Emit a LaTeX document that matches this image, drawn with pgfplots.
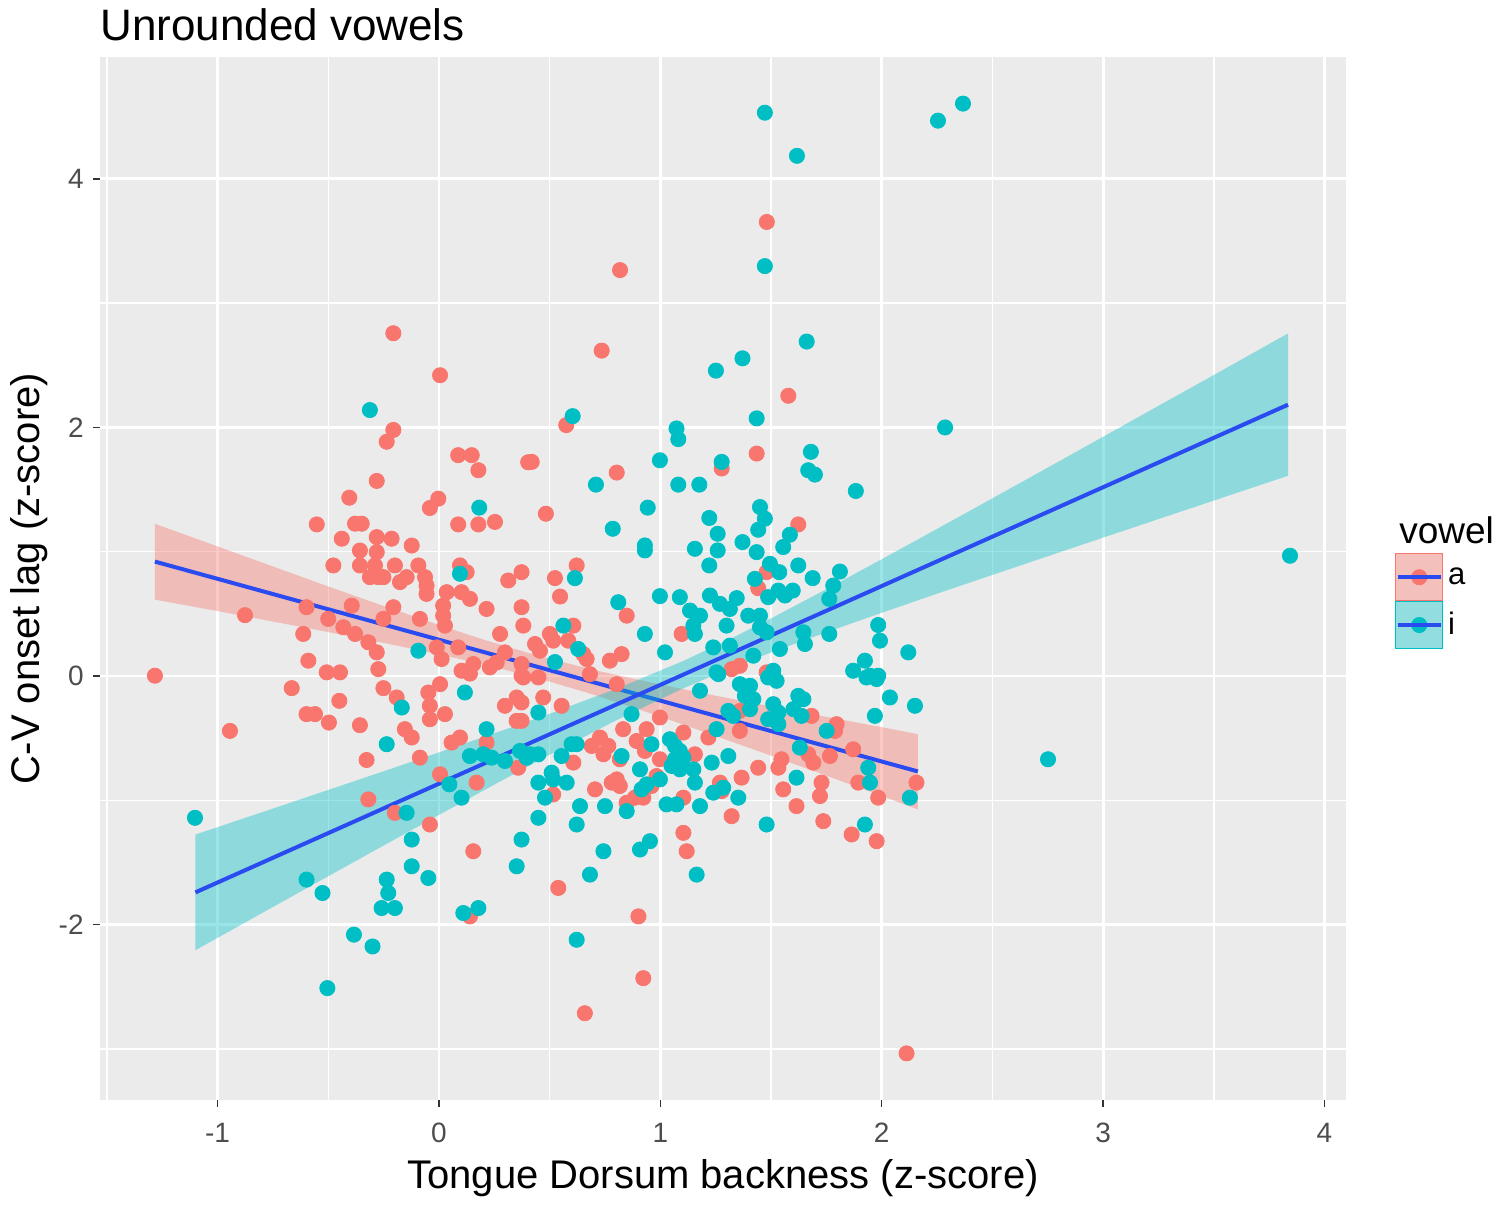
\documentclass[border=0pt]{standalone}
\usepackage{pgfplots}
\pgfplotsset{compat=1.18}
\usepackage{pgfplotstable}
\usepackage{fontspec}
\setmainfont{Liberation Sans}
\definecolor{ggred}{HTML}{F8766D}
\definecolor{ggteal}{HTML}{00BFC4}
\definecolor{ggblue}{HTML}{2A4BF0}
\definecolor{ggbg}{HTML}{EBEBEB}
\definecolor{ggtick}{HTML}{4D4D4D}
\definecolor{ggtickmark}{HTML}{333333}
\definecolor{ggkey}{HTML}{F2F2F2}

\pgfplotstableread{
x y
-0.206 2.758
0.005 2.42
-0.206 1.98
-0.236 1.885
0.087 1.777
0.148 1.777
0.178 1.656
0.403 1.72
-0.281 1.57
-0.405 1.435
-0.003 1.427
-0.041 1.352
-0.552 1.22
-0.379 1.226
-0.349 1.226
0.087 1.22
0.178 1.22
0.253 1.24
-0.439 1.105
-0.281 1.118
-0.214 1.105
-0.123 1.05
-0.357 1.01
-0.281 0.997
-0.477 0.89
-0.357 0.89
-0.289 0.89
-0.199 0.89
-0.093 0.89
0.095 0.89
0.125 0.836
-0.312 0.796
-0.274 0.796
-0.251 0.796
-0.176 0.756
-0.146 0.796
-0.063 0.796
-0.056 0.728
0.313 0.769
0.373 0.836
-0.056 0.661
0.035 0.675
0.102 0.675
0.140 0.621
0.019 0.567
0.019 0.486
0.027 0.406
0.215 0.54
0.373 0.554
0.381 0.406
-0.206 0.554
-0.394 0.567
-0.598 0.554
-0.876 0.49
-0.5 0.46
-0.432 0.393
-0.379 0.339
-0.251 0.46
-0.086 0.46
-0.613 0.339
-0.319 0.272
-0.281 0.191
-0.010 0.231
0.012 0.137
0.087 0.231
0.276 0.339
0.298 0.191
0.155 0.097
0.230 0.07
0.261 0.11
-0.590 0.124
-0.274 0.056
-0.507 0.030
-0.447 0.030
-1.283 0.003
0.102 0.043
0.373 0.097
-0.665 -0.097
-0.251 -0.097
-0.191 -0.172
-0.450 -0.199
-0.598 -0.306
-0.560 -0.306
-0.497 -0.374
-0.357 -0.395
-0.944 -0.441
-0.154 -0.427
-0.123 -0.494
-0.048 -0.132
0.005 -0.065
-0.041 -0.239
-0.041 -0.347
0.027 -0.306
0.14 0.02
0.298 -0.239
0.351 -0.172
0.373 0.003
0.351 -0.36
0.057 -0.535
0.095 -0.494
-0.327 -0.675
-0.086 -0.656
0.358 -0.737
0.005 -0.79
0.170 -0.857
-0.319 -0.992
-0.199 -1.1
-0.041 -1.194
0.155 -1.409
0.140 -1.933
0.215 -0.535
0.735 2.618
1.578 2.255
0.575 2.019
0.419 1.723
0.803 1.637
1.435 1.79
1.277 1.67
0.483 1.306
1.623 1.22
0.622 0.89
0.524 0.788
0.547 0.640
0.848 0.486
1.480 0.836
1.442 0.707
0.607 0.406
1.096 0.339
0.501 0.339
0.516 0.285
0.434 0.258
0.456 0.204
0.584 0.285
0.652 0.177
0.667 0.137
0.772 0.124
0.825 0.177
1.480 0.03
1.359 0.083
0.381 -0.011
0.449 -0.011
0.471 -0.172
0.554 -0.239
0.373 -0.212
0.373 -0.36
0.607 -0.696
0.516 -0.952
0.682 0.016
0.803 -0.065
0.727 -0.494
0.765 -0.562
0.743 -0.629
0.690 -0.562
0.832 -0.427
0.817 -0.669
0.893 -0.522
0.930 -0.602
0.938 -0.427
0.780 -0.857
0.817 -0.884
0.803 -0.831
0.705 -0.911
0.848 -1.019
0.885 -0.978
0.923 -0.978
0.983 -0.804
0.960 -0.884
0.998 -0.333
0.998 -0.669
1.104 -0.454
1.156 -0.629
1.104 -0.978
1.104 -1.261
1.119 -1.409
1.217 -0.494
1.269 -0.857
1.277 -0.925
1.322 -1.127
1.367 -0.817
1.442 -0.737
1.359 -0.441
1.359 -0.280
1.547 -0.669
1.533 -0.737
1.555 -0.911
1.615 -1.046
1.683 -0.320
1.796 -0.387
1.789 -0.441
1.668 -0.629
1.691 -0.696
1.728 -0.857
1.721 -0.965
1.736 -1.167
1.766 -0.643
1.871 -0.589
1.894 -0.857
1.984 -0.978
1.864 -1.274
1.977 -1.328
2.157 -0.857
1.322 0.056
0.539 -1.704
0.901 -1.933
0.923 -2.43
0.659 -2.712
2.112 -3.035
1.481 3.653
0.818 3.266
}\redpts

\pgfplotstableread{
x y
-0.312 2.14
0.182 1.355
0.095 0.823
-0.093 0.204
0.117 -0.132
-0.168 -0.253
-0.236 -0.548
0.215 -0.427
0.140 -0.643
0.200 -0.629
0.238 -0.656
0.298 -0.683
0.396 -0.656
0.047 -0.871
0.102 -0.978
-0.146 -1.1
-1.102 -1.14
-0.123 -1.315
-0.123 -1.53
-0.048 -1.624
0.373 -1.315
0.351 -1.53
-0.598 -1.637
-0.526 -1.745
-0.236 -1.637
-0.229 -1.745
-0.259 -1.866
-0.199 -1.866
0.110 -1.906
0.178 -1.866
-0.384 -2.08
-0.300 -2.175
-0.504 -2.51
1.661 2.691
1.371 2.556
1.251 2.457
1.435 2.073
0.604 2.091
1.073 1.992
1.081 1.906
1.277 1.723
0.998 1.736
1.680 1.804
1.668 1.656
1.698 1.621
1.883 1.489
0.709 1.540
1.081 1.540
1.176 1.540
0.943 1.355
0.785 1.185
0.930 1.051
0.930 1.011
1.221 1.272
1.450 1.360
1.472 1.266
1.442 1.177
1.259 1.145
1.371 1.078
1.585 1.137
1.555 1.038
1.156 1.024
1.259 1.011
1.435 0.997
1.221 0.890
1.495 0.903
1.623 0.890
1.688 0.788
1.811 0.841
1.781 0.728
1.537 0.836
1.427 0.782
0.614 0.788
0.810 0.594
0.998 0.643
1.088 0.635
1.224 0.648
1.269 0.581
1.314 0.540
1.345 0.627
1.487 0.635
1.533 0.688
1.563 0.648
1.598 0.688
1.763 0.621
1.134 0.527
1.179 0.486
1.149 0.406
1.156 0.339
1.299 0.406
1.397 0.486
1.450 0.486
1.450 0.392
1.480 0.352
0.562 0.406
0.930 0.339
1.646 0.352
1.653 0.258
1.763 0.339
1.984 0.411
1.992 0.285
2.120 0.191
0.629 0.218
1.021 0.191
1.239 0.231
1.314 0.245
1.420 0.164
1.540 0.218
1.924 0.124
1.871 0.043
1.947 0.003
1.984 0.003
1.254 0.030
1.510 0.043
0.524 0.113
0.449 -0.293
0.366 -0.602
0.411 -0.629
0.449 -0.629
0.449 -0.857
0.516 -0.831
0.577 -0.857
0.509 -0.777
0.479 -0.978
0.449 -1.140
0.554 -0.643
0.599 -0.548
0.622 -0.548
0.637 -1.046
0.622 -1.194
0.750 -1.046
0.743 -1.409
0.682 -1.597
0.825 -0.643
0.870 -0.306
0.908 -0.750
0.915 -0.911
0.938 -0.871
0.848 -1.086
0.908 -1.395
0.953 -1.328
0.960 -0.548
0.998 -0.831
1.028 -1.032
1.073 -1.032
1.043 -0.508
1.066 -0.562
1.088 -0.602
1.066 -0.669
1.104 -0.656
1.088 -0.750
1.051 -0.723
1.149 -0.750
1.156 -0.857
1.179 -1.046
1.164 -1.597
1.179 -0.118
1.232 -0.696
1.239 -0.938
1.284 -0.898
1.307 -0.643
1.352 -0.978
1.359 -0.065
1.405 -0.078
1.382 -0.159
1.420 -0.186
1.487 -0.011
1.525 -0.038
1.307 -0.280
1.329 -0.320
1.254 -0.427
1.405 -0.266
1.510 -0.226
1.533 -0.293
1.487 -0.347
1.533 -0.387
1.480 -1.194
1.623 -0.159
1.646 -0.186
1.601 -0.266
1.638 -0.320
1.615 -0.817
1.751 -0.441
1.931 -0.011
1.977 -0.024
2.037 -0.172
1.969 -0.320
2.150 -0.239
1.939 -0.737
1.947 -0.857
2.127 -0.978
1.924 -1.194
1.630 -0.575
1.262 0.016
0.622 -2.121
2.751 -0.669
3.844 0.968
2.286 2.0
2.254 4.468
2.367 4.605
1.472 4.532
1.617 4.185
1.472 3.298
}\tealpts

\begin{document}
\begin{tikzpicture}
\useasboundingbox (-50pt,-52.5pt) rectangle (700pt,550pt);
\begin{axis}[
  scale only axis,
  width=623pt, height=521.5pt,
  xmin=-1.531, xmax=4.097, ymin=-3.41, ymax=4.98,
  clip=false,
  axis background/.style={fill=ggbg},
  axis line style={draw=none},
  xtick={-1,0,1,2,3,4}, xticklabels={-1,0,1,2,3,4},
  ytick={-2,0,2,4}, yticklabels={-2,0,2,4},
  minor xtick={-1.5,-0.5,0.5,1.5,2.5,3.5},
  minor ytick={-3,-1,1,3},
  grid=both,
  major grid style={white, line width=1.4pt},
  minor grid style={white, line width=0.7pt},
  tick align=outside,
  xtick pos=left, ytick pos=left,
  major tick length=3.5pt, minor tick length=0pt,
  tick style={ggtickmark, line width=0.75pt},
  xticklabel style={font=\fontsize{14}{14}\selectfont, text=ggtick, anchor=north, inner sep=0pt, yshift=-8pt},
  yticklabel style={font=\fontsize{14}{14}\selectfont, text=ggtick, anchor=east, inner sep=0pt, xshift=-4.5pt},
  xlabel={Tongue Dorsum backness (z-score)},
  ylabel={C-V onset lag (z-score)},
  xlabel style={at={(axis description cs:0.5,-0.0844)}, anchor=base, inner sep=0pt, font=\fontsize{20}{20}\selectfont},
  ylabel style={at={(axis description cs:-0.04815,0.5)}, anchor=base, inner sep=0pt, font=\fontsize{20}{20}\selectfont},
  every axis title shift=0pt,
  title={Unrounded vowels},
  title style={at={(axis description cs:0,1.0163)}, anchor=base west, inner sep=0pt, font=\fontsize{22}{22}\selectfont},
  legend style={draw=none, fill=none, at={(axis description cs:1.0393,0.5245)}, anchor=north west, inner sep=0pt, row sep=0pt, column sep=0pt, font=\fontsize{15.5}{15.5}\selectfont, nodes={inner sep=0pt, inner xsep=2.5pt}},
  legend cell align=left,
]
\addplot[ggred, only marks, mark=*, mark size=3.8pt, forget plot] table[x=x,y=y] {\redpts};
\addplot[ggteal, only marks, mark=*, mark size=3.8pt, forget plot] table[x=x,y=y] {\tealpts};
% ribbon a
\addplot[draw=none, fill=ggred, fill opacity=0.4, forget plot] coordinates {
(-1.283,1.225) (-1,1.043) (-0.75,0.882) (-0.5,0.721) (-0.25,0.564) (0,0.411) (0.2,0.294) (0.45,0.162) (0.7,0.049) (1,-0.068) (1.25,-0.158) (1.5,-0.244) (1.75,-0.328) (2,-0.411) (2.163,-0.467)
(2.163,-1.073) (2,-0.963) (1.75,-0.801) (1.5,-0.640) (1.25,-0.482) (1,-0.326) (0.7,-0.150) (0.45,-0.018) (0.2,0.095) (0,0.175) (-0.25,0.267) (-0.5,0.354) (-0.75,0.439) (-1,0.523) (-1.283,0.615)} -- cycle;
\addplot[ggblue, line width=2pt, forget plot] coordinates {(-1.283,0.921) (2.163,-0.767)};
% ribbon i
\addplot[draw=none, fill=ggteal, fill opacity=0.4, forget plot] coordinates {
(-1.1,-1.275) (-0.8,-1.096) (-0.5,-0.916) (-0.25,-0.766) (0,-0.614) (0.25,-0.460) (0.5,-0.303) (0.8,-0.103) (1.1,0.119) (1.3,0.285) (1.5,0.464) (1.75,0.699) (2,0.940) (2.25,1.184) (2.5,1.430) (2.75,1.677) (3,1.925) (3.25,2.174) (3.5,2.422) (3.835,2.756)
(3.835,1.611) (3.5,1.412) (3.25,1.263) (3,1.114) (2.75,0.964) (2.5,0.814) (2.25,0.663) (2,0.509) (1.75,0.353) (1.5,0.190) (1.3,0.051) (1.1,-0.101) (0.8,-0.356) (0.5,-0.633) (0.25,-0.873) (0,-1.117) (-0.25,-1.363) (-0.5,-1.610) (-0.8,-1.907) (-1.1,-2.205)} -- cycle;
\addplot[ggblue, line width=2pt, forget plot] coordinates {(-1.1,-1.74) (3.835,2.183)};
% legend
\addlegendimage{legend image code/.code={
  \fill[ggkey] (0pt,-11.75pt) rectangle (23.5pt,11.75pt);
  \fill[ggred] (11.75pt,0pt) circle (3.8pt);
  \fill[ggred, fill opacity=0.4] (0pt,-11.75pt) rectangle (23.5pt,11.75pt);
  \draw[ggblue, line width=2pt] (1pt,0pt) -- (22.5pt,0pt);
}}
\addlegendentry{a}
\addlegendimage{legend image code/.code={
  \fill[ggkey] (0pt,-11.75pt) rectangle (23.5pt,11.75pt);
  \fill[ggteal] (11.75pt,0pt) circle (3.8pt);
  \fill[ggteal, fill opacity=0.4] (0pt,-11.75pt) rectangle (23.5pt,11.75pt);
  \draw[ggblue, line width=2pt] (1pt,0pt) -- (22.5pt,0pt);
}}
\addlegendentry{i}
\node[anchor=base west, inner sep=0pt, font=\fontsize{18.5}{18.5}\selectfont] at (rel axis cs:1.0425,0.534) {vowel};
\end{axis}
\end{tikzpicture}
\end{document}
